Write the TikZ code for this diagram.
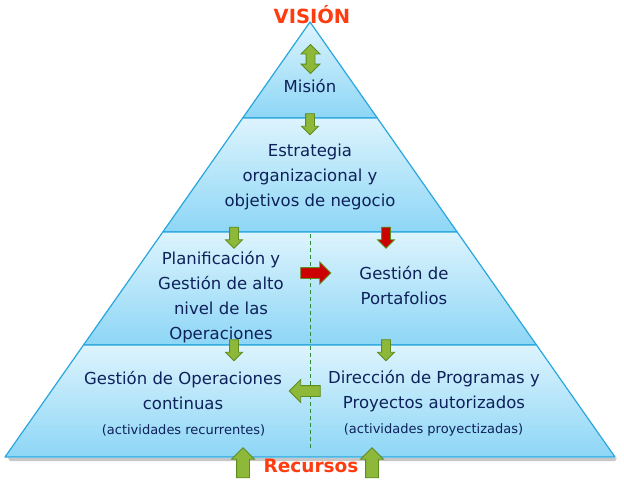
\documentclass[tikz,border=0pt]{standalone}
\usepackage{fontspec}
\setmainfont{DejaVu Sans}
\usetikzlibrary{shapes.arrows}

\definecolor{bandtop}{HTML}{DDF4FD}
\definecolor{bandbottom}{HTML}{8DD6F6}
\definecolor{bandedge}{HTML}{29A6DE}
\definecolor{navytext}{HTML}{0E215A}
\definecolor{titlered}{HTML}{FF3B10}
\definecolor{arrowgreen}{HTML}{8DB83A}
\definecolor{arrowedge}{HTML}{5E8C1F}
\definecolor{arrowred}{HTML}{CC0000}
\definecolor{divgreen}{HTML}{2E8B3A}

\tikzset{
  band/.style={draw=bandedge, line width=1.2pt, line join=round, top color=bandtop, bottom color=bandbottom},
  bandtext/.style={text=navytext, align=center, font=\fontsize{16.5}{25}\selectfont},
  notetext/.style={text=navytext, font=\fontsize{13}{16}\selectfont},
  headline/.style={text=titlered, font=\fontsize{18.5}{22}\selectfont\bfseries},
  blockarrow/.style={single arrow, draw=arrowedge, fill=arrowgreen, line width=0.8pt,
    inner sep=4pt, minimum width=0pt, single arrow head extend=4pt, minimum height=21pt},
  redarrow/.style={blockarrow, fill=arrowred}
}

\begin{document}
\begin{tikzpicture}[x=1pt, y=-1pt]
        \useasboundingbox (0,0) rectangle (624,480);

        % Shadow under the pyramid
        \fill[black!22] (8,458) -- (617,458) -- (615,461) -- (10,461) -- cycle;

        % Draw the four bands
        \draw[band] (310,22) -- (377.3,118) -- (242.7,118) -- cycle;
        \draw[band] (242.7,118) -- (377.3,118) -- (457.2,232) -- (162.8,232) -- cycle;
        \draw[band] (162.8,232) -- (457.2,232) -- (536.5,345) -- (83.5,345) -- cycle;
        \draw[band] (83.5,345) -- (536.5,345) -- (615,457) -- (5,457) -- cycle;

        % Split between operations and projects
        \draw[divgreen, dash pattern=on 4pt off 3pt, line width=0.8pt] (310,234) -- (310,450);

        % Label the bands
        \node[headline, font=\fontsize{19.5}{22}\selectfont\bfseries] (vision) at (312,15) {VISIÓN};
        \node[bandtext] (mision) at (310,86) {Misión};
        \node[bandtext] (estrategia) at (310,177) {Estrategia\\organizacional y\\objetivos de negocio};
        \node[bandtext] (planificacion) at (221,297) {Planificación y\\Gestión de alto\\nivel de las\\Operaciones};
        \node[bandtext] (portafolios) at (404,286) {Gestión de\\Portafolios};
        \node[bandtext] (operaciones) at (183,391) {Gestión de Operaciones\\continuas};
        \node[notetext] (recurrentes) at (183.5,430) {(actividades recurrentes)};
        \node[bandtext] (programas) at (434,391) {Dirección de Programas y\\Proyectos autorizados};
        \node[notetext] (proyectizadas) at (433.5,430) {(actividades proyectizadas)};
        \node[headline] (recursos) at (311,466) {Recursos};

        % Block arrows between the bands
        \node[double arrow, draw=arrowedge, fill=arrowgreen, line width=0.8pt, inner sep=4pt,
          minimum width=0pt, double arrow head extend=5pt, minimum height=29pt,
          shape border rotate=90] (visionarrow) at (310.5,59) {};
        \node[blockarrow, shape border rotate=270] (misionarrow) at (310,122) {};
        \node[blockarrow, shape border rotate=270] (planarrow) at (234,235.5) {};
        \node[redarrow, shape border rotate=270] (portarrow) at (386,235.5) {};
        \node[redarrow, inner sep=5pt, single arrow head extend=5.5pt, minimum height=30pt] (linkarrow) at (313,273) {};
        \node[blockarrow, shape border rotate=270] (operarrow) at (234,348) {};
        \node[blockarrow, shape border rotate=270] (progarrow) at (386,348) {};
        \node[blockarrow, inner sep=5pt, single arrow head extend=6pt, minimum height=31pt,
          shape border rotate=180] (backarrow) at (307.5,391) {};
        \node[blockarrow, inner sep=6pt, single arrow head extend=5pt, minimum height=30pt,
          shape border rotate=90] (leftfeed) at (243,466) {};
        \node[blockarrow, inner sep=6pt, single arrow head extend=5pt, minimum height=30pt,
          shape border rotate=90] (rightfeed) at (372,466) {};
    \end{tikzpicture}
\end{document}
